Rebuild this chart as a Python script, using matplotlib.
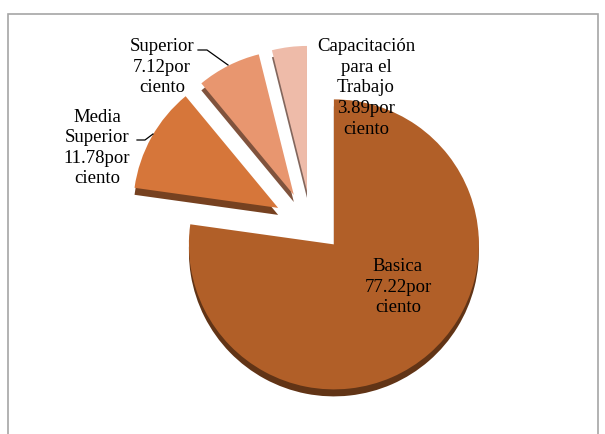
import numpy as np
import matplotlib.pyplot as plt
from matplotlib.colors import to_rgb
from matplotlib.patches import Rectangle

# data
labels = ['Basica', 'Media\nSuperior', 'Superior', 'Capacitación\npara el\nTrabajo']
values = [77.22, 11.78, 7.12, 3.89]
colors = ['#B15F28', '#D6763A', '#E8966F', '#EEBBA9']
explode = [0.07, 0.39, 0.37, 0.35]

plt.rcParams['font.family'] = ['Liberation Serif', 'DejaVu Serif']

W, H = 605, 434
fig = plt.figure(figsize=(W / 100, H / 100), dpi=100)
ax = fig.add_axes([0, 0, 1, 1])

cx, cy, R = 326, 196, 145   # pie centre / radius (pixels, y up)
tilt = [10, -3, 10, 15]      # explode direction tweak per slice (deg)
depth = 7                    # 3d side thickness


def draw_pie(cols, dy):
    wedges, _ = ax.pie(values, colors=cols, startangle=90, counterclock=False,
                       radius=R, center=(cx, cy),
                       wedgeprops=dict(linewidth=0))
    for w, e, t in zip(wedges, explode, tilt):
        mid = np.deg2rad((w.theta1 + w.theta2) / 2 + t)
        w.set_center((cx + e * R * np.cos(mid), cy + e * R * np.sin(mid) + dy))
    return wedges


dark = [tuple(c * 0.55 for c in to_rgb(col)) for col in colors]
draw_pie(dark, -depth)
draw_pie(colors, 0)

ax.set_xlim(0, W)
ax.set_ylim(0, H)
ax.set_aspect('auto')
ax.axis('off')

# chart frame
ax.add_patch(Rectangle((8, -20), 590, H - 14 + 20, fill=False,
                       edgecolor='#A6A6A6', linewidth=1.2, clip_on=False))

fs = 13.5
txt = [f'{l}\n{v:.2f}por\nciento' for l, v in zip(labels, values)]
label_pos = [(398, 434 - 287), (97, 434 - 148), (162, 434 - 67), (366, 434 - 88)]
for t, (x, y) in zip(txt, label_pos):
    ax.text(x, y, t, ha='center', va='center', fontsize=fs, linespacing=1.27,
            color='black')

# leader lines
ax.plot([137, 145, 153], [434 - 140, 434 - 140, 434 - 134], color='black', lw=0.9)
ax.plot([198, 207, 228], [434 - 50, 434 - 50, 434 - 65], color='black', lw=0.9)

fig.savefig('out.png', dpi=100)
